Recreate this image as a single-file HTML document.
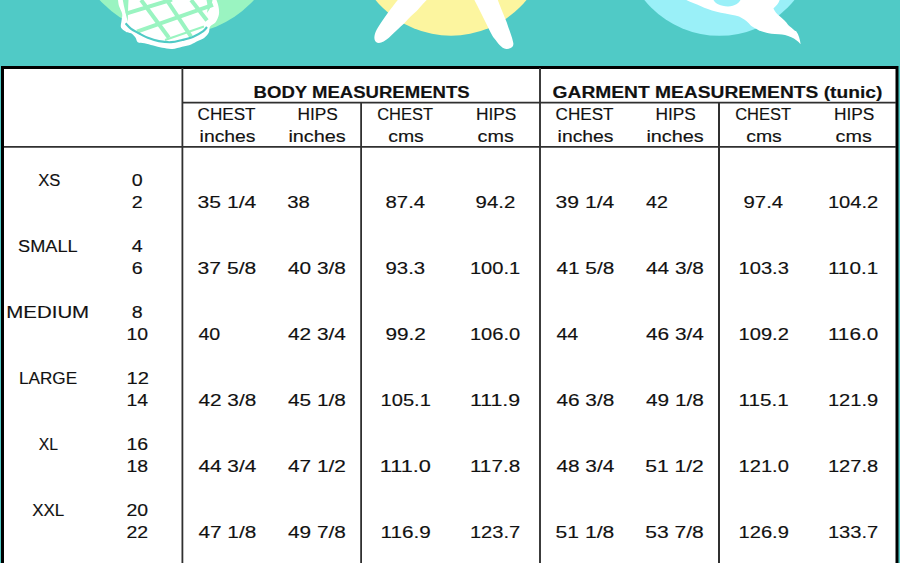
<!DOCTYPE html>
<html><head><meta charset="utf-8"><style>
html,body{margin:0;padding:0;width:900px;height:563px;overflow:hidden;background:#fff}
svg{display:block}
text{font-family:"Liberation Sans",sans-serif;font-size:16px;fill:#111;stroke:#111;stroke-width:0.15px}
text.b{font-weight:bold}
</style></head><body>
<svg width="900" height="563" viewBox="0 0 900 563">
<rect x="0" y="0" width="900" height="563" fill="#50CAC6"/>
<circle cx="176.8" cy="-69.6" r="103.9" fill="#9AF4C1"/>
<circle cx="451" cy="-62" r="97.7" fill="#FCF59F"/>
<circle cx="719.4" cy="-60.8" r="96.6" fill="#9AF0F8"/>
<defs><clipPath id="pc"><path d="M118.0,0.0 C118.2,1.0 118.3,3.7 119.0,6.0 C119.7,8.3 121.8,11.5 122.2,14.0 C122.6,16.5 121.7,18.7 121.5,21.0 C121.3,23.3 120.2,25.9 121.1,27.8 C122.0,29.7 125.0,31.3 126.7,32.2 C128.4,33.1 129.6,32.4 131.1,33.3 C132.6,34.2 134.5,36.3 135.6,37.8 C136.7,39.3 136.3,41.3 137.8,42.2 C139.3,43.1 141.8,42.7 144.4,43.3 C147.0,43.9 150.3,44.9 153.3,45.6 C156.3,46.4 159.0,47.2 162.2,47.8 C165.3,48.3 168.9,49.1 172.2,48.9 C175.5,48.7 179.0,47.5 182.2,46.7 C185.3,46.0 188.5,45.3 191.1,44.4 C193.7,43.5 195.6,42.2 197.8,41.1 C200.0,40.0 202.6,39.3 204.4,37.8 C206.2,36.3 208.0,34.1 208.9,32.2 C209.8,30.4 208.9,28.4 210.0,26.7 C211.1,25.0 214.1,24.2 215.6,22.2 C217.1,20.1 218.4,17.0 218.9,14.4 C219.4,11.8 218.9,9.1 218.5,6.7 C218.1,4.3 216.8,1.1 216.5,0.0 Z"/></clipPath></defs>
<path d="M118.0,0.0 C118.2,1.0 118.3,3.7 119.0,6.0 C119.7,8.3 121.8,11.5 122.2,14.0 C122.6,16.5 121.7,18.7 121.5,21.0 C121.3,23.3 120.2,25.9 121.1,27.8 C122.0,29.7 125.0,31.3 126.7,32.2 C128.4,33.1 129.6,32.4 131.1,33.3 C132.6,34.2 134.5,36.3 135.6,37.8 C136.7,39.3 136.3,41.3 137.8,42.2 C139.3,43.1 141.8,42.7 144.4,43.3 C147.0,43.9 150.3,44.9 153.3,45.6 C156.3,46.4 159.0,47.2 162.2,47.8 C165.3,48.3 168.9,49.1 172.2,48.9 C175.5,48.7 179.0,47.5 182.2,46.7 C185.3,46.0 188.5,45.3 191.1,44.4 C193.7,43.5 195.6,42.2 197.8,41.1 C200.0,40.0 202.6,39.3 204.4,37.8 C206.2,36.3 208.0,34.1 208.9,32.2 C209.8,30.4 208.9,28.4 210.0,26.7 C211.1,25.0 214.1,24.2 215.6,22.2 C217.1,20.1 218.4,17.0 218.9,14.4 C219.4,11.8 218.9,9.1 218.5,6.7 C218.1,4.3 216.8,1.1 216.5,0.0 Z" fill="#fff"/>
<g clip-path="url(#pc)">
<path d="M122.8,0 L128.5,0 C128,8 128,15 127.8,22 C126,15 124,7 122.8,0 Z" fill="#9AF4C1"/>
<path d="M206.5,0 L212.5,0 C212,5 210,9 207,13 C208,8 207.5,4 206.5,0 Z" fill="#9AF4C1"/>
<g stroke="#9AF4C1" stroke-width="4" fill="none">
<path d="M141.1,0 L168.9,37.8"/><path d="M166.7,0 L191.1,36.7"/><path d="M191.1,0 L207,20.5"/>
<path d="M126,13.7 L172,-0.5"/><path d="M137,31.6 L213,4.8"/>
<path d="M165,40 L204,26.5" stroke-width="2"/>
</g>
<path d="M125.6,23.3 C126.5,24.2 128.9,27.2 131.1,28.9 C133.3,30.6 136.1,31.8 138.9,33.3 C141.7,34.8 144.5,36.5 147.8,37.8 C151.1,39.1 155.0,40.4 158.9,41.1 C162.8,41.8 167.2,42.4 171.1,42.2 C175.0,42.0 178.5,40.9 182.2,40.0 C185.9,39.1 189.8,38.2 193.3,36.7 C196.8,35.2 201.0,32.7 203.3,31.1 C205.6,29.5 206.4,27.7 207.0,27.0" stroke="#50CAC6" stroke-width="2.2" fill="none"/>
</g>
<path d="M397.8,0 C392,7 384,18 377.8,27.8 C374.5,33 373,39 376,42 C379,44.5 384,42 388.9,37.8 C395,32 400,27 404.4,23.3 C409,18 413,14 416.7,11.1 C420,7 423,4 426.7,0 Z" fill="#fff"/>
<path d="M474.4,0 C479,9 483,17 486.7,24.4 C490,31 492,36 495.6,40 C499,45 503,49 506.7,48.9 C511,49 514,47 513.3,43 C512,36 509,30 506.7,22.2 C503,13 500,6 497.8,0 Z" fill="#fff"/>
<path d="M686.3,0 L779.6,0 C779,3 776,6 773.4,8.6 C775,12 777,14 778.9,15.6 C783,19 786,22 788.2,24.9 C792,28 795,31 796,31.1 C799,35 800,40 800.6,44.3 C798,41 795,39 791.3,37.3 C787,35 783,34.5 778.9,34.2 C773,34 769,33.5 766.4,32.7 C762,31.5 760,31 758.6,30.3 C755,28 753,27 751,25.7 C748,22 745,20 743,18.7 C740,17 738,16 735.3,15.6 C728,14 722,13 716.7,11.7 C710,10 705,8 701,6.2 C696,4 690,2 686.3,0 Z" fill="#fff"/>
<path d="M713.5,0 C716,4 720,6 728,6.4 C735,6 739,3 740.5,0 Z" fill="#9AF0F8"/>

<rect x="2.5" y="67.5" width="894.5" height="520" fill="#fff" stroke="#000" stroke-width="3"/>
<g stroke="#303030" stroke-width="1.8">
<line x1="182.4" y1="68" x2="182.4" y2="563"/>
<line x1="540" y1="68" x2="540" y2="563" stroke="#3c3c3c" stroke-width="2"/>
<line x1="361.1" y1="102" x2="361.1" y2="563"/>
<line x1="719" y1="102" x2="719" y2="563" stroke-width="2"/>
<line x1="182" y1="102.6" x2="896" y2="102.6"/>
<line x1="4" y1="146.8" x2="896" y2="146.8"/>
</g>
<text x="253.58" y="98.00" textLength="216.04" lengthAdjust="spacingAndGlyphs" class="b">BODY MEASUREMENTS</text>
<text x="552.64" y="98.00" textLength="329.72" lengthAdjust="spacingAndGlyphs" class="b">GARMENT MEASUREMENTS (tunic)</text>
<text x="197.64" y="120.00" textLength="57.92" lengthAdjust="spacingAndGlyphs">CHEST</text>
<text x="297.40" y="120.00" textLength="40.40" lengthAdjust="spacingAndGlyphs">HIPS</text>
<text x="199.64" y="142.00" textLength="55.92" lengthAdjust="spacingAndGlyphs">inches</text>
<text x="288.40" y="142.00" textLength="57.40" lengthAdjust="spacingAndGlyphs">inches</text>
<text x="377.20" y="120.00" textLength="55.80" lengthAdjust="spacingAndGlyphs">CHEST</text>
<text x="475.96" y="120.00" textLength="40.40" lengthAdjust="spacingAndGlyphs">HIPS</text>
<text x="388.20" y="142.00" textLength="35.60" lengthAdjust="spacingAndGlyphs">cms</text>
<text x="477.64" y="142.00" textLength="36.16" lengthAdjust="spacingAndGlyphs">cms</text>
<text x="555.64" y="120.00" textLength="57.92" lengthAdjust="spacingAndGlyphs">CHEST</text>
<text x="655.40" y="120.00" textLength="40.40" lengthAdjust="spacingAndGlyphs">HIPS</text>
<text x="557.64" y="142.00" textLength="55.92" lengthAdjust="spacingAndGlyphs">inches</text>
<text x="646.40" y="142.00" textLength="57.40" lengthAdjust="spacingAndGlyphs">inches</text>
<text x="735.20" y="120.00" textLength="55.80" lengthAdjust="spacingAndGlyphs">CHEST</text>
<text x="833.96" y="120.00" textLength="40.40" lengthAdjust="spacingAndGlyphs">HIPS</text>
<text x="746.20" y="142.00" textLength="35.60" lengthAdjust="spacingAndGlyphs">cms</text>
<text x="835.64" y="142.00" textLength="36.16" lengthAdjust="spacingAndGlyphs">cms</text>
<text x="38.20" y="186.00" textLength="22.16" lengthAdjust="spacingAndGlyphs">XS</text>
<text x="131.76" y="186.00" textLength="10.92" lengthAdjust="spacingAndGlyphs">0</text>
<text x="131.76" y="208.00" textLength="10.92" lengthAdjust="spacingAndGlyphs">2</text>
<text x="197.64" y="208.00" textLength="58.61" lengthAdjust="spacingAndGlyphs">35 1/4</text>
<text x="287.20" y="208.00" textLength="22.60" lengthAdjust="spacingAndGlyphs">38</text>
<text x="385.52" y="208.00" textLength="39.60" lengthAdjust="spacingAndGlyphs">87.4</text>
<text x="475.64" y="208.00" textLength="39.60" lengthAdjust="spacingAndGlyphs">94.2</text>
<text x="555.64" y="208.00" textLength="58.61" lengthAdjust="spacingAndGlyphs">39 1/4</text>
<text x="646.00" y="208.00" textLength="21.80" lengthAdjust="spacingAndGlyphs">42</text>
<text x="743.52" y="208.00" textLength="39.60" lengthAdjust="spacingAndGlyphs">97.4</text>
<text x="827.90" y="208.00" textLength="50.28" lengthAdjust="spacingAndGlyphs">104.2</text>
<text x="18.04" y="252.00" textLength="59.56" lengthAdjust="spacingAndGlyphs">SMALL</text>
<text x="131.76" y="252.00" textLength="10.92" lengthAdjust="spacingAndGlyphs">4</text>
<text x="131.76" y="274.00" textLength="10.92" lengthAdjust="spacingAndGlyphs">6</text>
<text x="197.64" y="274.00" textLength="58.61" lengthAdjust="spacingAndGlyphs">37 5/8</text>
<text x="288.00" y="274.00" textLength="57.81" lengthAdjust="spacingAndGlyphs">40 3/8</text>
<text x="385.52" y="274.00" textLength="39.60" lengthAdjust="spacingAndGlyphs">93.3</text>
<text x="469.90" y="274.00" textLength="50.28" lengthAdjust="spacingAndGlyphs">100.1</text>
<text x="556.44" y="274.00" textLength="57.81" lengthAdjust="spacingAndGlyphs">41 5/8</text>
<text x="646.00" y="274.00" textLength="57.81" lengthAdjust="spacingAndGlyphs">44 3/8</text>
<text x="738.58" y="274.00" textLength="50.28" lengthAdjust="spacingAndGlyphs">103.3</text>
<text x="827.90" y="274.00" textLength="50.28" lengthAdjust="spacingAndGlyphs">110.1</text>
<text x="6.34" y="318.00" textLength="82.82" lengthAdjust="spacingAndGlyphs">MEDIUM</text>
<text x="131.76" y="318.00" textLength="10.92" lengthAdjust="spacingAndGlyphs">8</text>
<text x="126.52" y="340.00" textLength="21.60" lengthAdjust="spacingAndGlyphs">10</text>
<text x="198.44" y="340.00" textLength="21.80" lengthAdjust="spacingAndGlyphs">40</text>
<text x="288.00" y="340.00" textLength="57.81" lengthAdjust="spacingAndGlyphs">42 3/4</text>
<text x="385.52" y="340.00" textLength="40.40" lengthAdjust="spacingAndGlyphs">99.2</text>
<text x="469.90" y="340.00" textLength="50.28" lengthAdjust="spacingAndGlyphs">106.0</text>
<text x="556.44" y="340.00" textLength="21.80" lengthAdjust="spacingAndGlyphs">44</text>
<text x="646.00" y="340.00" textLength="57.81" lengthAdjust="spacingAndGlyphs">46 3/4</text>
<text x="738.58" y="340.00" textLength="50.28" lengthAdjust="spacingAndGlyphs">109.2</text>
<text x="827.90" y="340.00" textLength="50.28" lengthAdjust="spacingAndGlyphs">116.0</text>
<text x="19.02" y="384.00" textLength="58.10" lengthAdjust="spacingAndGlyphs">LARGE</text>
<text x="126.52" y="384.00" textLength="22.40" lengthAdjust="spacingAndGlyphs">12</text>
<text x="126.52" y="406.00" textLength="21.60" lengthAdjust="spacingAndGlyphs">14</text>
<text x="198.44" y="406.00" textLength="57.81" lengthAdjust="spacingAndGlyphs">42 3/8</text>
<text x="288.00" y="406.00" textLength="57.81" lengthAdjust="spacingAndGlyphs">45 1/8</text>
<text x="380.58" y="406.00" textLength="50.28" lengthAdjust="spacingAndGlyphs">105.1</text>
<text x="469.90" y="406.00" textLength="50.29" lengthAdjust="spacingAndGlyphs">111.9</text>
<text x="556.44" y="406.00" textLength="57.81" lengthAdjust="spacingAndGlyphs">46 3/8</text>
<text x="646.00" y="406.00" textLength="57.81" lengthAdjust="spacingAndGlyphs">49 1/8</text>
<text x="738.58" y="406.00" textLength="50.28" lengthAdjust="spacingAndGlyphs">115.1</text>
<text x="827.90" y="406.00" textLength="50.28" lengthAdjust="spacingAndGlyphs">121.9</text>
<text x="38.76" y="450.00" textLength="19.24" lengthAdjust="spacingAndGlyphs">XL</text>
<text x="126.52" y="450.00" textLength="21.60" lengthAdjust="spacingAndGlyphs">16</text>
<text x="126.52" y="472.00" textLength="21.60" lengthAdjust="spacingAndGlyphs">18</text>
<text x="198.44" y="472.00" textLength="57.81" lengthAdjust="spacingAndGlyphs">44 3/4</text>
<text x="288.00" y="472.00" textLength="57.81" lengthAdjust="spacingAndGlyphs">47 1/2</text>
<text x="379.78" y="472.00" textLength="51.09" lengthAdjust="spacingAndGlyphs">111.0</text>
<text x="469.90" y="472.00" textLength="50.28" lengthAdjust="spacingAndGlyphs">117.8</text>
<text x="556.44" y="472.00" textLength="57.81" lengthAdjust="spacingAndGlyphs">48 3/4</text>
<text x="645.20" y="472.00" textLength="58.61" lengthAdjust="spacingAndGlyphs">51 1/2</text>
<text x="738.58" y="472.00" textLength="50.28" lengthAdjust="spacingAndGlyphs">121.0</text>
<text x="827.90" y="472.00" textLength="50.28" lengthAdjust="spacingAndGlyphs">127.8</text>
<text x="32.20" y="516.00" textLength="32.04" lengthAdjust="spacingAndGlyphs">XXL</text>
<text x="126.52" y="516.00" textLength="21.60" lengthAdjust="spacingAndGlyphs">20</text>
<text x="126.52" y="538.00" textLength="21.60" lengthAdjust="spacingAndGlyphs">22</text>
<text x="198.44" y="538.00" textLength="57.81" lengthAdjust="spacingAndGlyphs">47 1/8</text>
<text x="288.00" y="538.00" textLength="57.81" lengthAdjust="spacingAndGlyphs">49 7/8</text>
<text x="380.58" y="538.00" textLength="50.28" lengthAdjust="spacingAndGlyphs">116.9</text>
<text x="469.90" y="538.00" textLength="50.28" lengthAdjust="spacingAndGlyphs">123.7</text>
<text x="555.64" y="538.00" textLength="58.61" lengthAdjust="spacingAndGlyphs">51 1/8</text>
<text x="645.20" y="538.00" textLength="58.61" lengthAdjust="spacingAndGlyphs">53 7/8</text>
<text x="738.58" y="538.00" textLength="50.28" lengthAdjust="spacingAndGlyphs">126.9</text>
<text x="827.90" y="538.00" textLength="50.28" lengthAdjust="spacingAndGlyphs">133.7</text>
</svg>
</body></html>
